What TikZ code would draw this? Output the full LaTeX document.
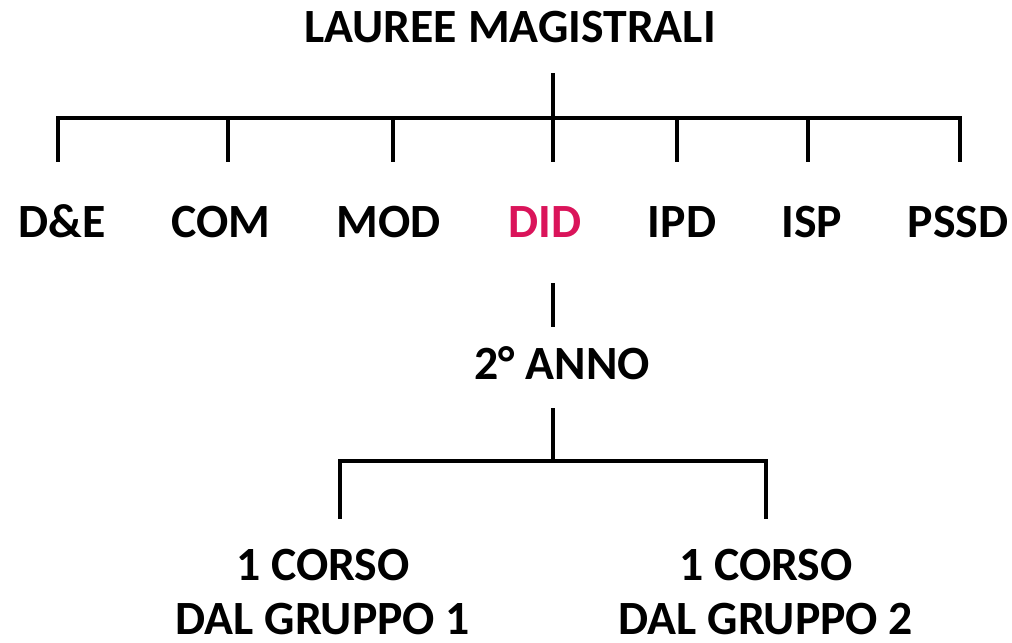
\documentclass[tikz,border=0pt]{standalone}
\usepackage{fontspec}
\setmainfont{Carlito}
\definecolor{didred}{RGB}{218,20,90}
\begin{document}
\begin{tikzpicture}[x=0.75pt,y=-0.75pt,
  lbl/.style={font=\fontsize{35.8}{40}\selectfont\bfseries, inner sep=0pt, anchor=base},
  conn/.style={line width=2.5pt, line cap=rect, line join=miter}]
\useasboundingbox (0,0) rectangle (1012,642);
\node[lbl] (title) at (510,43) {LAUREE MAGISTRALI};
\node[lbl] (de) at (62,237) {D\&E};
\node[lbl] (com) at (221,237) {COM};
\node[lbl] (mod) at (389,237) {MOD};
\node[lbl, text=didred] (did) at (545,237) {DID};
\node[lbl] (ipd) at (682,237) {IPD};
\node[lbl] (isp) at (812,237) {ISP};
\node[lbl] (pssd) at (958,237) {PSSD};
\node[lbl] (anno) at (562,379) {2° ANNO};
\node[lbl] (c1) at (323,580) {1 CORSO};
\node[lbl] (g1) at (323,634) {DAL GRUPPO 1};
\node[lbl] (c2) at (766,580) {1 CORSO};
\node[lbl] (g2) at (766,634) {DAL GRUPPO 2};
% top tree
\coordinate (t0) at (553,75);
\coordinate (t1) at (553,118);
\coordinate (hl) at (58,118);
\coordinate (hr) at (960,118);
\draw[conn] (t0) -- (t1);
\draw[conn] (hl) -- (hr);
\foreach \x in {58,228,393,553,677,808,960}{
  \draw[conn] (\x,118) -- (\x,160);
}
% DID to anno
\coordinate (d0) at (553,285);
\coordinate (d1) at (553,325);
\draw[conn] (d0) -- (d1);
\coordinate (a0) at (553,410);
\coordinate (a1) at (553,461);
\coordinate (l0) at (340,461);
\coordinate (r0) at (766,461);
\draw[conn] (a0) -- (a1);
\draw[conn] (l0) -- (r0);
\draw[conn] (l0) -- (340,517);
\draw[conn] (r0) -- (766,517);
\end{tikzpicture}
\end{document}
